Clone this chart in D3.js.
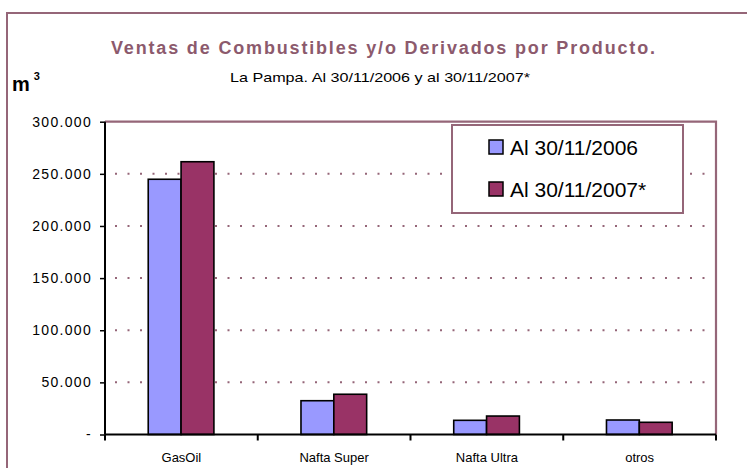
<!DOCTYPE html>
<html>
<head>
<meta charset="utf-8">
<script src="https://cdn.jsdelivr.net/npm/d3@7"></script>
<style>
  body { margin: 0; background: #fff; }
  svg { display: block; font-family: "Liberation Sans", Arial, sans-serif; }
</style>
</head>
<body>
<svg id="chart" width="747" height="468"></svg>
<script>
// ---- data ----
const categories = ["GasOil", "Nafta Super", "Nafta Ultra", "otros"];
const seriesNames = ["Al 30/11/2006", "Al 30/11/2007*"];
const values2006 = [244800, 32400, 13600, 13900];
const values2007 = [261600, 38600, 17700, 11700];
const yTicks = [0, 50000, 100000, 150000, 200000, 250000, 300000];
const yTickLabels = ["-", "50.000", "100.000", "150.000", "200.000", "250.000", "300.000"];
const seriesColors = ["#9999ff", "#993366"];

const titleText = "Ventas de Combustibles y/o Derivados por Producto.";
const subtitleText = "La Pampa. Al 30/11/2006 y al 30/11/2007*";

// ---- layout ----
const rose = "#956678";
const plot = { left: 105, right: 716, top: 121.7, bottom: 434.5 };

const svg = d3.select("#chart");

// outer frame (top and left edges visible)
svg.append("path")
  .attr("d", "M7,470 L7,13 L750,13")
  .attr("fill", "none").attr("stroke", rose).attr("stroke-width", 2);

// titles
svg.append("text")
  .attr("x", 383).attr("y", 54)
  .attr("text-anchor", "middle")
  .attr("font-size", 18).attr("font-weight", "bold")
  .attr("fill", "#8c5a6d")
  .attr("textLength", 544).attr("lengthAdjust", "spacing")
  .text(titleText);

svg.append("text")
  .attr("x", 380).attr("y", 82)
  .attr("text-anchor", "middle")
  .attr("font-size", 13)
  .attr("fill", "#000")
  .attr("textLength", 300).attr("lengthAdjust", "spacingAndGlyphs")
  .text(subtitleText);

// unit label m³
const unit = svg.append("text").attr("x", 12).attr("y", 91)
  .attr("font-weight", "bold").attr("fill", "#000");
unit.append("tspan").attr("font-size", 20).text("m");
unit.append("tspan").attr("font-size", 11).attr("dx", 4).attr("dy", -11).text("3");

// scales
const x = d3.scaleBand().domain(categories).range([plot.left, plot.right]).padding(0);
const xs = d3.scaleBand().domain(seriesNames)
  .range([x.bandwidth() * 0.283, x.bandwidth() * 0.713]).padding(0);
const y = d3.scaleLinear().domain([0, 300000]).range([plot.bottom, plot.top]);

// dotted gridlines
svg.append("g").selectAll("line")
  .data(yTicks.filter(t => t > 0 && t < 300000))
  .join("line")
  .attr("x1", plot.left + 10).attr("x2", plot.right)
  .attr("y1", d => y(d)).attr("y2", d => y(d))
  .attr("stroke", rose).attr("stroke-width", 2)
  .attr("stroke-dasharray", "2,10.5");

// plot area top/right border
svg.append("path")
  .attr("d", `M${plot.left},${plot.top} L${plot.right},${plot.top} L${plot.right},${plot.bottom}`)
  .attr("fill", "none").attr("stroke", rose).attr("stroke-width", 2.2);

// bars
const rows = categories.map((c, i) => ({ cat: c, vals: [values2006[i], values2007[i]] }));
const groups = svg.append("g").selectAll("g")
  .data(rows).join("g")
  .attr("transform", d => `translate(${x(d.cat)},0)`);
groups.selectAll("rect")
  .data(d => d.vals.map((v, k) => ({ name: seriesNames[k], v, k })))
  .join("rect")
  .attr("x", d => xs(d.name))
  .attr("width", xs.bandwidth())
  .attr("y", d => y(d.v))
  .attr("height", d => y(0) - y(d.v))
  .attr("fill", d => seriesColors[d.k])
  .attr("stroke", "#000").attr("stroke-width", 1.6);

// y axis
const yAxis = d3.axisLeft(y)
  .tickValues(yTicks)
  .tickFormat((d, i) => yTickLabels[i])
  .tickSize(5).tickPadding(8);
const gy = svg.append("g").attr("transform", `translate(${plot.left},0)`).call(yAxis);
gy.select(".domain").attr("stroke", "#000").attr("stroke-width", 2)
  .attr("d", `M0,${plot.top}V${plot.bottom}`);
gy.selectAll(".tick line").attr("stroke", "#000").attr("stroke-width", 1.5);
gy.selectAll(".tick text").attr("font-size", 14).attr("fill", "#000")
  .attr("font-family", "Liberation Sans, Arial, sans-serif")
  .attr("letter-spacing", "1.3px");

// x axis
const xAxis = d3.axisBottom(x).tickSize(0).tickPadding(18);
const gx = svg.append("g").attr("transform", `translate(0,${plot.bottom})`).call(xAxis);
gx.select(".domain").attr("stroke", "#000").attr("stroke-width", 2)
  .attr("d", `M${plot.left},0H${plot.right}`);
gx.selectAll(".tick text").attr("font-size", 13).attr("fill", "#000")
  .attr("font-family", "Liberation Sans, Arial, sans-serif");
// category separator ticks
const bounds = categories.map(c => x(c)).concat([x(categories[categories.length - 1]) + x.bandwidth()]);
gx.append("g").selectAll("line").data(bounds).join("line")
  .attr("x1", d => d).attr("x2", d => d)
  .attr("y1", 0).attr("y2", 6)
  .attr("stroke", "#000").attr("stroke-width", 2);

// legend
const legend = svg.append("g");
legend.append("rect")
  .attr("x", 452).attr("y", 125).attr("width", 231).attr("height", 88)
  .attr("fill", "#fff").attr("stroke", rose).attr("stroke-width", 2);
const items = legend.selectAll("g.item").data(seriesNames).join("g")
  .attr("class", "item")
  .attr("transform", (d, i) => `translate(489,${147 + i * 42})`);
items.append("rect")
  .attr("x", 0).attr("y", -7).attr("width", 14).attr("height", 14)
  .attr("fill", (d, i) => seriesColors[i])
  .attr("stroke", "#000").attr("stroke-width", 1.5);
items.append("text")
  .attr("x", 21).attr("y", 7.5)
  .attr("font-size", 21).attr("fill", "#000")
  .text(d => d);
</script>
</body>
</html>
